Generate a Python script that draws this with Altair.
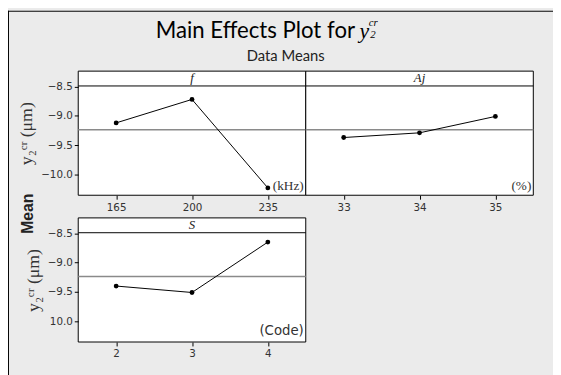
import altair as alt
import pandas as pd

# ---- data ----
f_levels = [165, 200, 235]
f_means = [-9.12, -8.72, -10.23]
aj_levels = [33, 34, 35]
aj_means = [-9.37, -9.29, -9.01]
s_levels = [2, 3, 4]
s_means = [-9.40, -9.51, -8.65]
grand_mean = -9.236
y_ticks = [-8.5, -9.0, -9.5, -10.0]
strip_line = -8.49
y_domain = [-10.355, -8.237]

W, H, GAP = 231, 126, 23
SANS = "DejaVu Sans"
SERIF = "Liberation Serif"
Y_TITLE = "y₂ᶜʳ (μm)"
PAD_L, PAD_T = 71.3, 61.3


def panel(levels, means, header, unit, unit_font, unit_val, col, row,
          show_y, label_expr=None):
    step = levels[1] - levels[0]
    xdom = [levels[0] - step / 2, levels[-1] + step / 2]
    x0 = col * W
    y0 = row * (H + GAP)
    xs = alt.Scale(domain=xdom, range=[x0, x0 + W], nice=False, zero=False)
    ys = alt.Scale(domain=y_domain, range=[y0 + H, y0], nice=False, zero=False)

    df = pd.DataFrame({"level": levels, "mean": means})
    frame = pd.DataFrame({"xa": [xdom[0]], "xb": [xdom[1]], "ya": [y_domain[0]],
                          "yb": [y_domain[1]], "gm": [grand_mean], "st": [strip_line],
                          "xm": [(xdom[0] + xdom[1]) / 2],
                          "hy": [(strip_line + y_domain[1]) / 2],
                          "uy": [unit_val], "head": [header], "unit": [unit]})

    xaxis = alt.Axis(values=levels, title=None, grid=False, domain=False, orient="bottom",
                     offset=(row - 1) * (H + GAP), tickColor="black", tickSize=4,
                     labelFont=SANS, labelFontSize=10.5, labelColor="#333",
                     labelPadding=3, format="d", zindex=1)
    if show_y:
        ax = dict(values=y_ticks, format=".1f", title=Y_TITLE, titleFont=SERIF,
                  titleFontSize=18, titleFontWeight="normal", titleColor="#333",
                  titlePadding=5, grid=False, domain=False, tickSize=4, orient="left",
                  tickColor="black", labelFont=SANS, labelFontSize=10.5,
                  labelColor="#333", labelPadding=2, zindex=1)
        if label_expr:
            ax["labelExpr"] = label_expr
        yaxis = alt.Axis(**ax)
    else:
        yaxis = None

    fb = alt.Chart(frame)
    bg = fb.mark_rect(fill="white", stroke="black", strokeWidth=1).encode(
        x=alt.X("xa:Q", scale=xs, axis=None), x2="xb:Q",
        y=alt.Y("ya:Q", scale=ys, axis=None), y2="yb:Q")
    ref = fb.mark_rule(color="#8a8a8a", strokeWidth=1.5).encode(
        x=alt.X("xa:Q", scale=xs, axis=None), x2="xb:Q",
        y=alt.Y("gm:Q", scale=ys, axis=None))
    strip = fb.mark_rule(color="black", strokeWidth=1).encode(
        x=alt.X("xa:Q", scale=xs, axis=None), x2="xb:Q",
        y=alt.Y("st:Q", scale=ys, axis=None))
    head = fb.mark_text(font=SERIF, fontStyle="italic", fontSize=13, baseline="middle",
                        color="#222").encode(
        x=alt.X("xm:Q", scale=xs, axis=None), y=alt.Y("hy:Q", scale=ys, axis=None),
        text="head:N")
    unit_t = fb.mark_text(font=unit_font, fontSize=13.5, align="right", baseline="middle",
                          color="#333", dx=-2).encode(
        x=alt.X("xb:Q", scale=xs, axis=None), y=alt.Y("uy:Q", scale=ys, axis=None),
        text="unit:N")
    base = alt.Chart(df)
    line = base.mark_line(color="black", strokeWidth=1).encode(
        x=alt.X("level:Q", scale=xs, axis=xaxis),
        y=alt.Y("mean:Q", scale=ys, axis=yaxis))
    pts = base.mark_circle(color="black", size=24, opacity=1).encode(
        x=alt.X("level:Q", scale=xs, axis=None), y=alt.Y("mean:Q", scale=ys, axis=None))
    return [bg, ref, strip, head, unit_t, line, pts]


def txt(s, x, y, **kw):
    return alt.Chart(pd.DataFrame({"t": [s]})).mark_text(**kw).encode(
        x=alt.value(x), y=alt.value(y), text="t:N")


dummy = pd.DataFrame({"a": [0]})
border_top = alt.Chart(dummy).mark_rule(color="black", strokeWidth=1).encode(
    x=alt.value(-PAD_L), x2=alt.value(500), y=alt.value(-PAD_T + 0.5))
border_left = alt.Chart(dummy).mark_rule(color="black", strokeWidth=1).encode(
    x=alt.value(-PAD_L + 0.5), y=alt.value(-PAD_T), y2=alt.value(330))

decor = [
    txt("Main Effects Plot for", 281, -33.3, font="Lato", fontSize=22.5, align="right",
        baseline="alphabetic", color="black"),
    txt("y", 285.5, -33.3, font=SERIF, fontStyle="italic", fontSize=22, align="left",
        baseline="alphabetic", color="black"),
    txt("cr", 295, -45.5, font=SERIF, fontStyle="italic", fontSize=11, align="left",
        baseline="alphabetic", color="black"),
    txt("2", 296.5, -33.5, font=SERIF, fontStyle="italic", fontSize=11, align="left",
        baseline="alphabetic", color="black"),
    txt("Data Means", 210.7, -15.3, font="Lato", fontSize=15, align="center",
        baseline="middle", color="#222"),
    txt("Mean", -51.3, 144.7, font="Liberation Sans", fontWeight="bold", fontSize=16,
        angle=270, align="center", baseline="middle", color="#222"),
    border_top, border_left,
]

layers = (panel(f_levels, f_means, "f", "(kHz)", SERIF, -10.199, 0, 0, True)
          + panel(aj_levels, aj_means, "Aj", "(%)", SERIF, -10.199, 1, 0, False)
          + panel(s_levels, s_means, "S", "(Code)", SANS, -10.162, 0, 1, True,
                  label_expr="datum.value == -10 ? '10.0' : format(datum.value, '.1f')")
          + decor)

chart = alt.layer(*layers).resolve_scale(x="independent", y="independent").resolve_axis(
    x="independent", y="independent").properties(
    width=2 * W, height=2 * H + GAP,
    autosize=alt.AutoSizeParams(type="none"),
    padding={"left": PAD_L, "top": PAD_T, "right": 20, "bottom": 31},
    background="#ebebeb",
).configure_view(stroke="transparent", fill="transparent")

chart.save("out.html", embed_options={"renderer": "svg", "actions": False})
